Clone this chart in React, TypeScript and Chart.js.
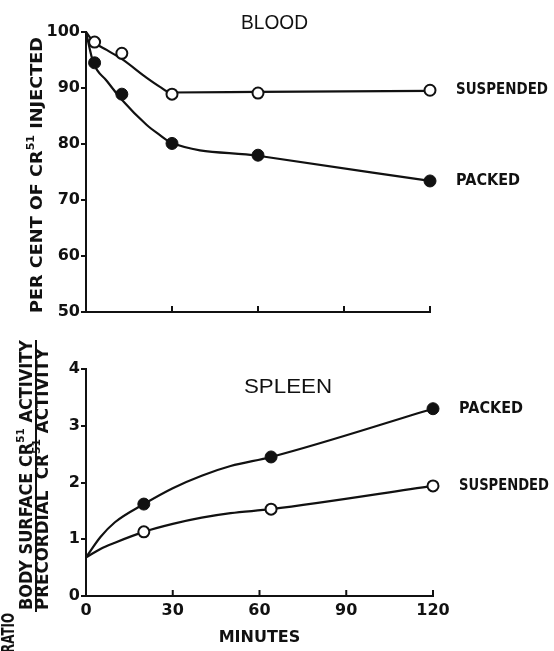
import React, { useEffect, useRef } from "react";
import { Chart, registerables } from "chart.js";

Chart.register(...registerables);

// ---------- data ----------
const bloodMinutes = [3, 12.5, 30, 60, 120];
const bloodSuspended = [98.2, 96.2, 88.9, 89.1, 89.6];
const bloodPacked = [94.5, 88.9, 80.1, 78.0, 73.4];
// hand-drawn fitted curves, read along their length
const bloodSuspendedCurveMinutes = [0, 2.8, 7.2, 12.7, 21.2, 25.8, 29.5, 60, 120];
const bloodSuspendedCurve = [100, 98.2, 96.8, 95.1, 91.8, 90.2, 89.2, 89.3, 89.5];
const bloodPackedCurveMinutes = [0, 2.5, 7.2, 12.5, 21.2, 25.8, 29.5, 60, 120];
const bloodPackedCurve = [100, 94.6, 91.3, 87.9, 83.4, 81.6, 80.3, 77.9, 73.4];
const bloodTicks = [50, 60, 70, 80, 90, 100];

const spleenMinutes = [20, 64, 120];
const spleenPacked = [1.62, 2.45, 3.3];
const spleenSuspended = [1.13, 1.53, 1.94];
const spleenCurveMinutes = [0, 5, 10, 20, 30, 40, 50, 64, 120];
const spleenPackedCurve = [0.68, 1.04, 1.3, 1.62, 1.9, 2.12, 2.29, 2.45, 3.3];
const spleenSuspendedCurve = [0.68, 0.83, 0.94, 1.13, 1.27, 1.38, 1.46, 1.53, 1.94];
const spleenTicks = [0, 1, 2, 3, 4];

const minuteTicks = [0, 30, 60, 90, 120];

const INK = "#111";
const FONT = '"DejaVu Sans", sans-serif';

type Seg = { t: string; sup?: boolean };

const pts = (xs: number[], ys: number[]) => xs.map((x, i) => ({ x, y: ys[i] }));

function drawFit(
  ctx: CanvasRenderingContext2D,
  text: string,
  x: number,
  y: number,
  width: number,
  font: string,
  align: "left" | "center" = "left"
) {
  ctx.save();
  ctx.font = font;
  const w = ctx.measureText(text).width;
  const k = width / w;
  ctx.translate(x, y);
  ctx.scale(k, 1);
  ctx.fillStyle = INK;
  ctx.textBaseline = "middle";
  ctx.textAlign = "left";
  ctx.fillText(text, align === "center" ? -w / 2 : 0, 0);
  ctx.restore();
}

// rotated (-90deg) text made of segments, fitted so it runs from yStart upward over `length`
function drawRotated(
  ctx: CanvasRenderingContext2D,
  segs: Seg[],
  cx: number,
  yStart: number,
  length: number,
  size: number
) {
  const base = `bold ${size}px ${FONT}`;
  const supF = `bold ${Math.round(size * 0.62)}px ${FONT}`;
  ctx.save();
  let total = 0;
  const widths = segs.map((s) => {
    ctx.font = s.sup ? supF : base;
    const w = ctx.measureText(s.t).width;
    total += w;
    return w;
  });
  const k = length / total;
  ctx.translate(cx, yStart);
  ctx.rotate(-Math.PI / 2);
  ctx.scale(k, 1);
  ctx.fillStyle = INK;
  ctx.textBaseline = "middle";
  ctx.textAlign = "left";
  let x = 0;
  segs.forEach((s, i) => {
    ctx.font = s.sup ? supF : base;
    ctx.fillText(s.t, x, s.sup ? -size * 0.42 : 0);
    x += widths[i];
  });
  ctx.restore();
}

function inwardTicks(chart: any) {
  const xs = chart.scales.x;
  const ctx = chart.ctx as CanvasRenderingContext2D;
  const b = chart.chartArea.bottom;
  ctx.save();
  ctx.strokeStyle = INK;
  ctx.lineWidth = 2;
  minuteTicks.slice(1).forEach((v) => {
    const px = xs.getPixelForValue(v);
    ctx.beginPath();
    ctx.moveTo(px, b);
    ctx.lineTo(px, b - 6);
    ctx.stroke();
  });
  ctx.restore();
}

const openMarker = (data: { x: number; y: number }[]) => ({
  data,
  showLine: false,
  pointRadius: 5.5,
  pointBorderWidth: 2,
  pointBackgroundColor: "#fff",
  pointBorderColor: INK,
  clip: false as any,
});
const filledMarker = (data: { x: number; y: number }[]) => ({
  data,
  showLine: false,
  pointRadius: 6,
  pointBorderWidth: 1,
  pointBackgroundColor: INK,
  pointBorderColor: INK,
  clip: false as any,
});
const curve = (data: { x: number; y: number }[]) => ({
  data,
  showLine: true,
  pointRadius: 0,
  borderColor: INK,
  borderWidth: 2.2,
  cubicInterpolationMode: "monotone" as const,
  clip: false as any,
});

const tickFont = { family: FONT, weight: "bold" as const, size: 16 };

export default function App() {
  const topRef = useRef<HTMLCanvasElement>(null);
  const botRef = useRef<HTMLCanvasElement>(null);

  useEffect(() => {
    const topDeco = {
      id: "topDeco",
      afterDraw(chart: any) {
        const ctx = chart.ctx as CanvasRenderingContext2D;
        const ca = chart.chartArea;
        const ys = chart.scales.y;
        inwardTicks(chart);
        drawFit(ctx, "BLOOD", 274.5, 23, 67, `20px "Liberation Sans", sans-serif`, "center");
        drawFit(
          ctx,
          "SUSPENDED",
          ca.right + 26,
          ys.getPixelForValue(bloodSuspended[bloodSuspended.length - 1]),
          92,
          `bold 15px ${FONT}`
        );
        drawFit(
          ctx,
          "PACKED",
          ca.right + 26,
          ys.getPixelForValue(bloodPacked[bloodPacked.length - 1]),
          64,
          `bold 15px ${FONT}`
        );
        drawRotated(
          ctx,
          [{ t: "PER CENT OF CR" }, { t: "51", sup: true }, { t: " INJECTED" }],
          38,
          313,
          276,
          16
        );
      },
    };

    const botDeco = {
      id: "botDeco",
      afterDraw(chart: any) {
        const ctx = chart.ctx as CanvasRenderingContext2D;
        const ca = chart.chartArea;
        const ys = chart.scales.y;
        inwardTicks(chart);
        drawFit(ctx, "SPLEEN", 288, 57, 88, `20px "Liberation Sans", sans-serif`, "center");
        drawFit(
          ctx,
          "PACKED",
          ca.right + 26,
          ys.getPixelForValue(spleenPacked[spleenPacked.length - 1]),
          64,
          `bold 15px ${FONT}`
        );
        drawFit(
          ctx,
          "SUSPENDED",
          ca.right + 26,
          ys.getPixelForValue(spleenSuspended[spleenSuspended.length - 1]),
          90,
          `bold 15px ${FONT}`
        );
        drawRotated(
          ctx,
          [{ t: "BODY SURFACE CR" }, { t: "51", sup: true }, { t: " ACTIVITY" }],
          28,
          280,
          270,
          17
        );
        drawRotated(
          ctx,
          [{ t: "PRECORDIAL  CR" }, { t: "51", sup: true }, { t: " ACTIVITY" }],
          44,
          280,
          262,
          17
        );
        // fraction bar
        ctx.save();
        ctx.strokeStyle = INK;
        ctx.lineWidth = 2;
        ctx.beginPath();
        ctx.moveTo(36, 10);
        ctx.lineTo(36, 282);
        ctx.stroke();
        ctx.restore();
        drawRotated(ctx, [{ t: "RATIO" }], 10, 323, 40, 17);
      },
    };

    const c1 = new Chart(topRef.current as HTMLCanvasElement, {
      type: "scatter",
      data: {
        datasets: [
          openMarker(pts(bloodMinutes, bloodSuspended)),
          filledMarker(pts(bloodMinutes, bloodPacked)),
          curve(pts(bloodSuspendedCurveMinutes, bloodSuspendedCurve)),
          curve(pts(bloodPackedCurveMinutes, bloodPackedCurve)),
        ] as any,
      },
      options: {
        animation: false,
        responsive: false,
        maintainAspectRatio: false,
        devicePixelRatio: 1,
        events: [],
        layout: { padding: { left: 0, top: 32, right: 124, bottom: 0 } },
        plugins: { legend: { display: false }, tooltip: { enabled: false } },
        scales: {
          x: {
            type: "linear",
            min: 0,
            max: 120,
            afterBuildTicks: (s: any) => {
              s.ticks = minuteTicks.map((v) => ({ value: v }));
            },
            afterFit: (s: any) => {
              s.height = 18;
            },
            grid: { display: false, drawTicks: false },
            border: { display: true, color: INK, width: 2 },
            ticks: { display: false },
          },
          y: {
            type: "linear",
            min: 50,
            max: 100,
            afterBuildTicks: (s: any) => {
              s.ticks = bloodTicks.map((v) => ({ value: v }));
            },
            afterFit: (s: any) => {
              s.width = 86;
            },
            grid: { drawOnChartArea: false, drawTicks: true, tickLength: 5, color: INK, lineWidth: 2 },
            border: { display: true, color: INK, width: 2 },
            ticks: { color: INK, font: tickFont, padding: 1 },
          },
        },
      } as any,
      plugins: [topDeco],
    });

    const c2 = new Chart(botRef.current as HTMLCanvasElement, {
      type: "scatter",
      data: {
        datasets: [
          filledMarker(pts(spleenMinutes, spleenPacked)),
          openMarker(pts(spleenMinutes, spleenSuspended)),
          curve(pts(spleenCurveMinutes, spleenPackedCurve)),
          curve(pts(spleenCurveMinutes, spleenSuspendedCurve)),
        ] as any,
      },
      options: {
        animation: false,
        responsive: false,
        maintainAspectRatio: false,
        devicePixelRatio: 1,
        events: [],
        layout: { padding: { left: 0, top: 39, right: 121, bottom: 0 } },
        plugins: { legend: { display: false }, tooltip: { enabled: false } },
        scales: {
          x: {
            type: "linear",
            min: 0,
            max: 120,
            afterBuildTicks: (s: any) => {
              s.ticks = minuteTicks.map((v) => ({ value: v }));
            },
            afterFit: (s: any) => {
              s.height = 55;
            },
            grid: { display: false, drawTicks: false },
            border: { display: true, color: INK, width: 2 },
            ticks: { color: INK, font: tickFont, padding: 5, maxRotation: 0, autoSkip: false },
            title: {
              display: true,
              text: "MINUTES",
              color: INK,
              font: { family: FONT, weight: "bold", size: 16 },
              padding: { top: 0, bottom: 4 },
            },
          },
          y: {
            type: "linear",
            min: 0,
            max: 4,
            afterBuildTicks: (s: any) => {
              s.ticks = spleenTicks.map((v) => ({ value: v }));
            },
            afterFit: (s: any) => {
              s.width = 86;
            },
            grid: { drawOnChartArea: false, drawTicks: true, tickLength: 5, color: INK, lineWidth: 2 },
            border: { display: true, color: INK, width: 2 },
            ticks: { color: INK, font: tickFont, padding: 1 },
          },
        },
      } as any,
      plugins: [botDeco],
    });

    return () => {
      c1.destroy();
      c2.destroy();
    };
  }, []);

  return (
    <div
      style={{
        position: "absolute",
        left: 0,
        top: 0,
        width: 554,
        height: 651,
        background: "#fff",
        overflow: "hidden",
      }}
    >
      <canvas ref={topRef} width={554} height={330} style={{ position: "absolute", left: 0, top: 0 }} />
      <canvas ref={botRef} width={554} height={321} style={{ position: "absolute", left: 0, top: 330 }} />
    </div>
  );
}
